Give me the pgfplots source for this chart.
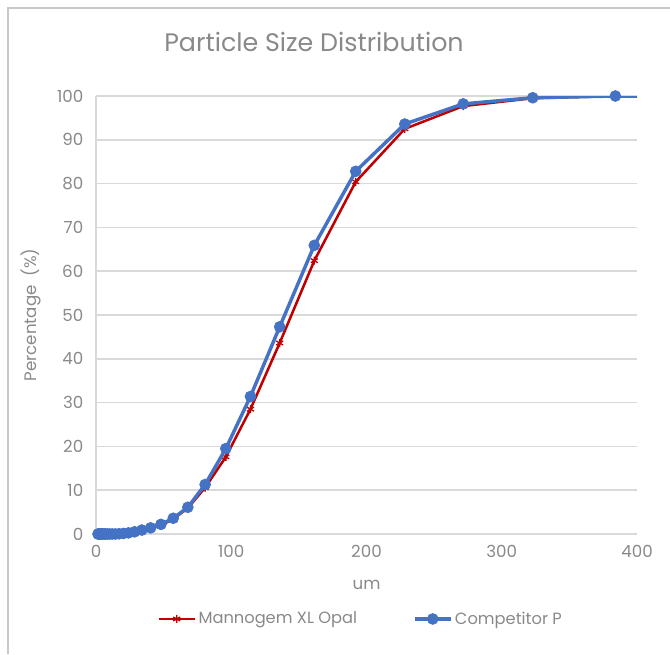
\documentclass[border=0pt]{standalone}
\usepackage{fontspec}
\setmainfont{Poppins}
\usepackage{pgfplots}
\usepackage{pgfplotstable}
\pgfplotsset{compat=1.18}
\definecolor{txt}{RGB}{137,137,137}
\definecolor{gridc}{RGB}{217,217,217}
\definecolor{framec}{RGB}{200,200,200}
\definecolor{redc}{RGB}{192,0,0}
\definecolor{bluec}{RGB}{68,114,196}

\pgfplotstableread{
x y
1.5 0
1.78 0
2.12 0
2.52 0
3 0
3.57 0
4.24 0
5.05 0
6 0
7.14 0
8.49 0
10.1 0
12 0
14.3 0
17 0.05
20.2 0.1
24 0.2
28.5 0.45
33.9 0.8
40.4 1.3
48 2.0
57.1 3.4
67.9 5.9
80.7 10.6
96 17.6
114.2 28.5
135.8 43.6
161.4 62.4
192 80.4
228.3 92.5
271.5 97.7
322.9 99.5
384 100
}\mannogem

\pgfplotstableread{
x y
1.5 0
1.78 0
2.12 0
2.52 0
3 0
3.57 0
4.24 0
5.05 0
6 0
7.14 0
8.49 0
10.1 0
12 0
14.3 0
17 0.05
20.2 0.12
24 0.25
28.5 0.5
33.9 0.9
40.4 1.4
48 2.2
57.1 3.6
67.9 6.1
80.7 11.3
96 19.5
114.2 31.4
135.8 47.3
161.4 65.9
192 82.8
228.3 93.6
271.5 98.2
322.9 99.6
384 100
}\competitor

\pgfplotstableread{
x y
384 100
401 100
}\tailA

\begin{document}
\begin{tikzpicture}
\useasboundingbox (0pt,0pt) rectangle (502.5pt,490.5pt);
\draw[framec, line width=1.2pt] (6pt,0pt) -- (6pt,484.5pt) -- (502.5pt,484.5pt);
\node[txt, font=\fontsize{19}{22}\selectfont] at (235.5pt,459pt) {Particle Size Distribution};
\begin{axis}[
  at={(72pt,90pt)}, anchor=south west,
  scale only axis, width=405.75pt, height=328.5pt,
  xmin=0, xmax=400, ymin=0, ymax=100,
  xtick={0,100,...,400}, ytick={0,10,...,100},
  ymajorgrids, grid style={gridc, line width=1.1pt},
  axis x line*=bottom, axis y line*=left,
  axis line style={gridc, line width=1.1pt},
  tick style={draw=none},
  /pgf/number format/assume math mode=true,
  tick label style={color=txt, font=\fontsize{12.5}{14}\selectfont},
  yticklabel style={xshift=-6pt},
  xticklabel style={yshift=-5pt},
  xlabel={um}, ylabel={Percentage\ \ (\%)},
  label style={color=txt, font=\fontsize{12.5}{14}\selectfont},
  xlabel style={yshift=-10pt},
  ylabel style={yshift=5pt},
  clip mode=individual,
  legend columns=2,
  legend style={at={(0.49,-0.194)}, anchor=center, draw=none, fill=none,
    font=\fontsize{12.2}{14}\selectfont, text=txt,
    /tikz/every even column/.append style={column sep=40pt}},
  legend image code/.code={\draw[mark repeat=2,mark phase=2] plot coordinates {(0cm,0cm) (0.47cm,0cm) (0.94cm,0cm)};},
]
\addplot[redc, line width=1.9pt, mark=asterisk, mark size=3pt, mark options={line width=1pt}] table {\mannogem};
\addlegendentry{Mannogem XL Opal}
\addplot[bluec, line width=2.6pt, mark=*, mark size=4.1pt, mark options={fill=bluec, draw=bluec, line width=0.5pt}] table {\competitor};
\addlegendentry{Competitor P}
\addplot[bluec, line width=2.6pt, forget plot] table {\tailA};
\end{axis}
\end{tikzpicture}
\end{document}
